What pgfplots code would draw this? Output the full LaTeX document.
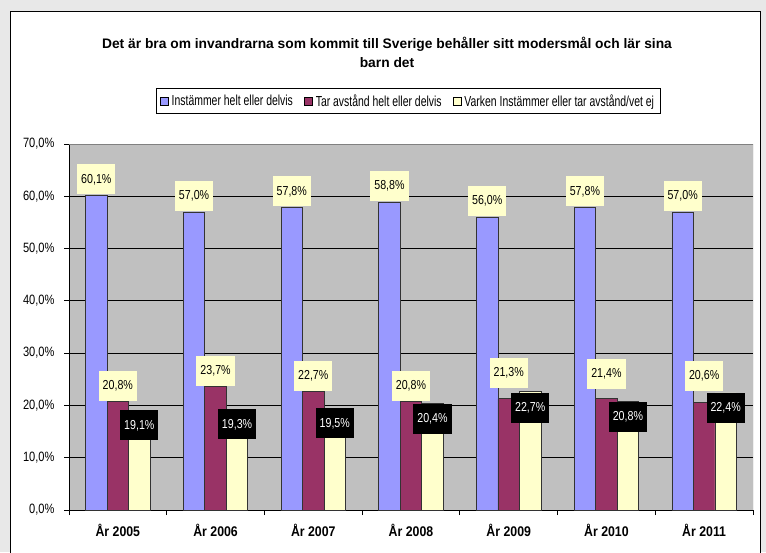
\documentclass[border=0pt]{standalone}
\usepackage{fontspec}
\setmainfont{Liberation Sans}
\newfontfamily\narrow[FakeStretch=0.82]{Liberation Sans}
\newfontfamily\narrowl[FakeStretch=0.72]{Liberation Sans}
\newfontfamily\narrowx[FakeStretch=0.88]{Liberation Sans}
\usepackage{pgfplots}
\usepackage{pgfplotstable}
\pgfplotsset{compat=1.18}
\definecolor{cblue}{HTML}{9999FF}
\definecolor{cmar}{HTML}{993366}
\definecolor{cyel}{HTML}{FFFFCC}
\definecolor{plotbg}{HTML}{C0C0C0}
\definecolor{outbg}{HTML}{E8E8E8}
\pgfplotstableread{
x y s
0 60.1 1
1 57.0 1
2 57.8 1
3 58.8 1
4 56.0 1
5 57.8 1
6 57.0 1
}\blue
\pgfplotstableread{
x y s
0 20.8 0
1 23.7 0
2 22.7 0
3 20.8 0
4 21.3 10
5 21.4 9
6 20.6 11
}\maroon
\pgfplotstableread{
x y s
0 19.1 0
1 19.3 0
2 19.5 0
3 20.4 0
4 22.7 -1
5 20.8 0
6 22.4 0
}\yellow
\begin{document}
\begin{tikzpicture}[x=1pt,y=1pt]
\useasboundingbox (0,0) rectangle (766,552);
\fill[outbg] (0,0) rectangle (766,552);
\filldraw[fill=white,draw=black,line width=1pt] (10,-5) rectangle (760,540);
\node[font=\bfseries\fontsize{13.8}{19}\selectfont, align=center] at (387,500) {Det är bra om invandrarna som kommit till Sverige behåller sitt modersmål och lär sina\\barn det};
\begin{axis}[
  at={(69pt,42pt)}, anchor=south west, scale only axis,
  width=684pt, height=366pt,
  /pgf/number format/assume math mode=true,
  ybar=0pt, bar width=21.5pt,
  xmin=-0.5, xmax=6.5, ymin=0, ymax=70,
  xtick={-0.5,0.5,...,6.5}, x tick label as interval,
  xticklabels={År 2005,År 2006,År 2007,År 2008,År 2009,År 2010,År 2011},
  ytick={0,10,...,70},
  yticklabel={\pgfmathprintnumber[fixed,fixed zerofill,precision=1,use comma]{\tick}\%},
  yticklabel style={font=\narrow\fontsize{13.5}{13.5}\selectfont, xshift=-6pt},
  xticklabel style={font=\narrowx\bfseries\fontsize{14}{14}\selectfont, yshift=-6pt},
  axis x line*=bottom, axis y line*=left,
  axis line style={black, line width=0.8pt},
  tick align=outside, major tick length=5pt,
  tick style={black, line width=0.8pt},
  ymajorgrids, grid style={black, line width=0.8pt},
  axis background/.style={fill=plotbg},
  legend style={at={(0.4963,1.1175)}, anchor=center, legend columns=3,
    draw=black, line width=0.8pt, fill=white, font=\narrowl\fontsize{14.5}{14.5}\selectfont,
    /tikz/every even column/.append style={column sep=9pt},
    nodes={inner xsep=2.5pt, inner ysep=1pt},
    inner xsep=4pt, inner ysep=5pt},
  legend image code/.code={\draw[#1, draw=black, line width=0.8pt] (0pt,-4pt) rectangle (8pt,4pt);},
  nodes near coords={\pgfmathprintnumber[fixed,fixed zerofill,precision=1,use comma]{\pgfplotspointmeta}\%},
  point meta=explicit,
  visualization depends on={\thisrow{s}\as\myshift},
  every node near coord/.append style={font=\narrow\fontsize{13}{13}\selectfont,
    inner xsep=4pt, inner ysep=0pt, minimum height=30pt},
]
\addplot[fill=cblue, draw=black!80, line width=0.7pt,
  every node near coord/.append style={fill=cyel, text=black, anchor=south, yshift=\myshift pt}]
  table[x=x,y=y,meta=y] {\blue};
\addplot[fill=cmar, draw=black!80, line width=0.7pt,
  every node near coord/.append style={fill=cyel, text=black, anchor=south, yshift=\myshift pt}]
  table[x=x,y=y,meta=y] {\maroon};
\addplot[fill=cyel, draw=black!80, line width=0.7pt,
  every node near coord/.append style={fill=black, text=white, anchor=north, yshift=\myshift pt}]
  table[x=x,y=y,meta=y] {\yellow};
\legend{Instämmer helt eller delvis, Tar avstånd helt eller delvis, Varken Instämmer eller tar avstånd/vet ej}
\draw[gray, line width=0.8pt] (rel axis cs:0,1) -- (rel axis cs:1,1) -- (rel axis cs:1,0);
\end{axis}
\end{tikzpicture}
\end{document}
